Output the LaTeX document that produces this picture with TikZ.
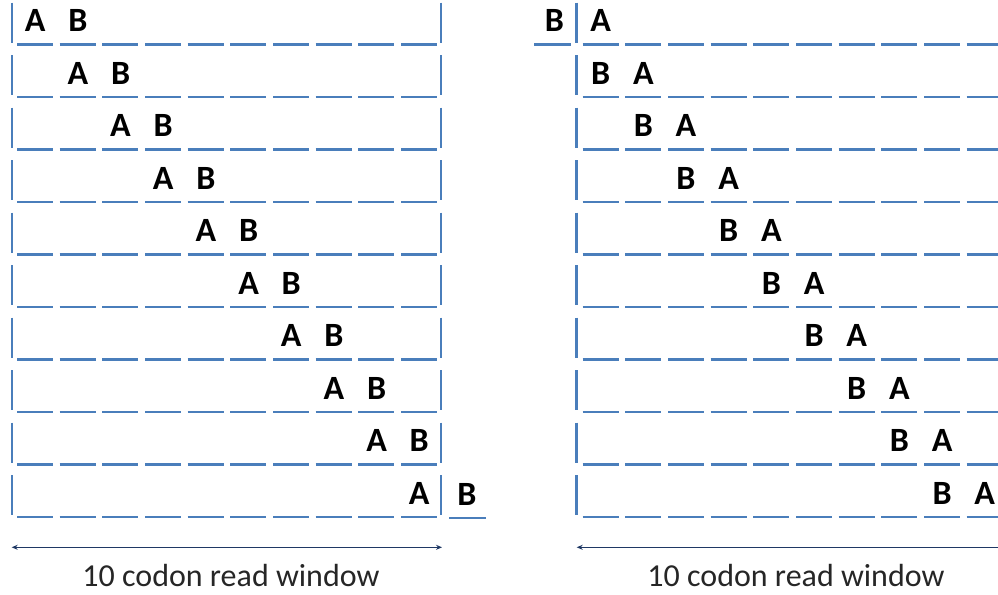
\documentclass[tikz,border=0pt]{standalone}
\usepackage{fontspec}
\setmainfont{Carlito}
\usetikzlibrary{arrows.meta}
\definecolor{codonblue}{RGB}{74,126,187}
\definecolor{spannavy}{RGB}{31,56,100}
\begin{document}
\begin{tikzpicture}[x=1pt,y=-1pt,
  codon/.style={codonblue,line width=2.5pt,dash pattern=on 36pt off 6.67pt},
  onecodon/.style={codonblue,line width=2.5pt},
  frame/.style={codonblue,line width=2.5pt},
  lettr/.style={anchor=base,inner sep=0pt,font=\fontsize{34}{34}\selectfont\bfseries},
  caption/.style={anchor=base,inner sep=0pt,text=black!85,font=\fontsize{32}{32}\selectfont},
  span/.style={spannavy,line width=1pt}
]
\clip (0,0) rectangle (998,594);
\foreach \i in {0,...,9}{
  \pgfmathsetmacro\yd{44.3+52.5*\i}
  \pgfmathsetmacro\yb{\yd-12.6}
  % left panel: codon row and frame bars
  \draw[codon] (17,\yd) -- (437,\yd);
  \draw[frame] (12,\yd-41.7) -- (12,\yd-1.7);
  \draw[frame] (441,\yd-41.7) -- (441,\yd-1.7);
  % right panel: codon row and start bar
  \draw[codon] (582.7,\yd) -- (1010,\yd);
  \draw[frame] (576.7,\yd-41.7) -- (576.7,\yd-1.7);
  % left panel letters: A then B
  \node[lettr] (lA\i) at (35.2+42.67*\i,\yb) {A};
  \ifnum\i<9
    \node[lettr] (lB\i) at (77.9+42.67*\i,\yb) {B};
  \fi
  % right panel letters: B then A
  \node[lettr] (rA\i) at (600.7+42.67*\i,\yb) {A};
  \ifnum\i>0
    \node[lettr] (rB\i) at (558+42.67*\i,\yb) {B};
  \fi
}
% codons outside the frame
\draw[onecodon] (449,517.8) -- (485.7,517.8);
\node[lettr] (lB9) at (467,505.2) {B};
\draw[onecodon] (534.3,44.3) -- (570.7,44.3);
\node[lettr] (rB0) at (554.5,31.7) {B};
% read window spans
\coordinate (lspanL) at (11.7,547.3);
\coordinate (lspanR) at (442,547.3);
\coordinate (rspanL) at (576.7,547.3);
\coordinate (rspanR) at (1006,547.3);
\draw[span,{Stealth[length=6pt,width=5pt]}-{Stealth[length=6pt,width=5pt]}] (lspanL) -- (lspanR);
\draw[span,{Stealth[length=6pt,width=5pt]}-{Stealth[length=6pt,width=5pt]}] (rspanL) -- (rspanR);
\node[caption] (lcap) at (231,586) {10 codon read window};
\node[caption] (rcap) at (796,586) {10 codon read window};
\end{tikzpicture}
\end{document}
